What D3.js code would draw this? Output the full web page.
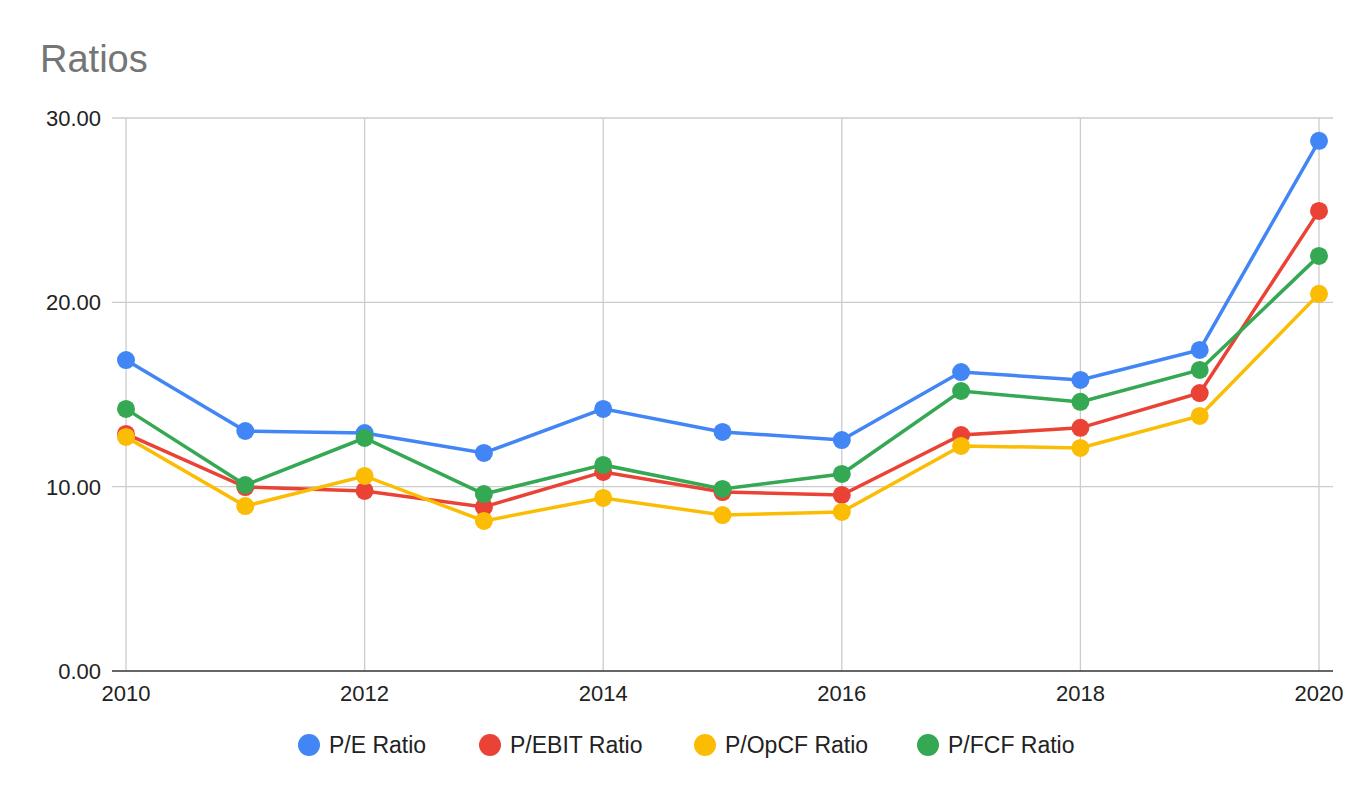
<!DOCTYPE html>
<html><head><meta charset="utf-8">
<script src="https://cdn.jsdelivr.net/npm/d3@7"></script>
<style>body{margin:0;background:#fff;font-family:"Liberation Sans",Arial,sans-serif}</style>
</head><body><svg id="c" width="1372" height="798"></svg>
<script>
var years = [2010,2011,2012,2013,2014,2015,2016,2017,2018,2019,2020]
var peRatio = [16.87,13.02,12.91,11.83,14.22,12.97,12.53,16.22,15.79,17.42,28.76]
var ebitRatio = [12.86,9.98,9.77,8.9,10.8,9.71,9.55,12.8,13.19,15.08,24.96]
var opcfRatio = [12.7,8.95,10.58,8.14,9.39,8.46,8.63,12.21,12.1,13.84,20.46]
var fcfRatio = [14.22,10.09,12.64,9.6,11.18,9.88,10.69,15.19,14.6,16.33,22.52]
var seriesNames = ["P/E Ratio","P/EBIT Ratio","P/OpCF Ratio","P/FCF Ratio"]
var colors = ["#4285f4","#ea4335","#fbbc04","#34a853"]
var yTicks = [0,10,20,30]
var xTicks = [2010,2012,2014,2016,2018,2020]

var svg = d3.select("#c")
var x = d3.scaleLinear().domain([2010,2020]).range([126,1319])
var y = d3.scaleLinear().domain([0,30]).range([671,118])

svg.append("text").attr("x",40).attr("y",72).attr("font-size",38).attr("fill","#757575").text("Ratios")

// grid
svg.selectAll(".hg").data(yTicks.filter(d=>d>0)).enter().append("line")
	.attr("x1",112).attr("x2",1333).attr("y1",d=>y(d)).attr("y2",d=>y(d))
	.attr("stroke","#cccccc").attr("stroke-width",1.3)
svg.selectAll(".vg").data(xTicks).enter().append("line")
	.attr("x1",d=>x(d)).attr("x2",d=>x(d)).attr("y1",118).attr("y2",671)
	.attr("stroke","#cccccc").attr("stroke-width",1.3)
svg.append("line").attr("x1",112).attr("x2",1333).attr("y1",y(0)).attr("y2",y(0)).attr("stroke","#333").attr("stroke-width",1.3)

svg.selectAll(".yl").data(yTicks).enter().append("text")
	.attr("x",101).attr("y",d=>y(d)+8).attr("text-anchor","end").attr("font-size",22).attr("fill","#222")
	.text(d=>d3.format(".2f")(d))
svg.selectAll(".xl").data(xTicks).enter().append("text")
	.attr("x",d=>x(d)).attr("y",701).attr("text-anchor","middle").attr("font-size",22).attr("fill","#222")
	.text(d=>d)

var all = [peRatio,ebitRatio,opcfRatio,fcfRatio]
var line = d3.line().x((d,i)=>x(years[i])).y(d=>y(d))
all.forEach(function(s,k){
	svg.append("path").attr("d",line(s)).attr("fill","none").attr("stroke",colors[k]).attr("stroke-width",3.5)
	svg.selectAll(".p"+k).data(s).enter().append("circle")
		.attr("cx",(d,i)=>x(years[i])).attr("cy",d=>y(d)).attr("r",9).attr("fill",colors[k])
})

// legend
var lx = [309,490,705,928]
seriesNames.forEach(function(n,k){
	svg.append("circle").attr("cx",lx[k]).attr("cy",745).attr("r",11).attr("fill",colors[k])
	svg.append("text").attr("x",lx[k]+20).attr("y",753).attr("font-size",23).attr("fill","#222").text(n)
})
</script></body></html>
